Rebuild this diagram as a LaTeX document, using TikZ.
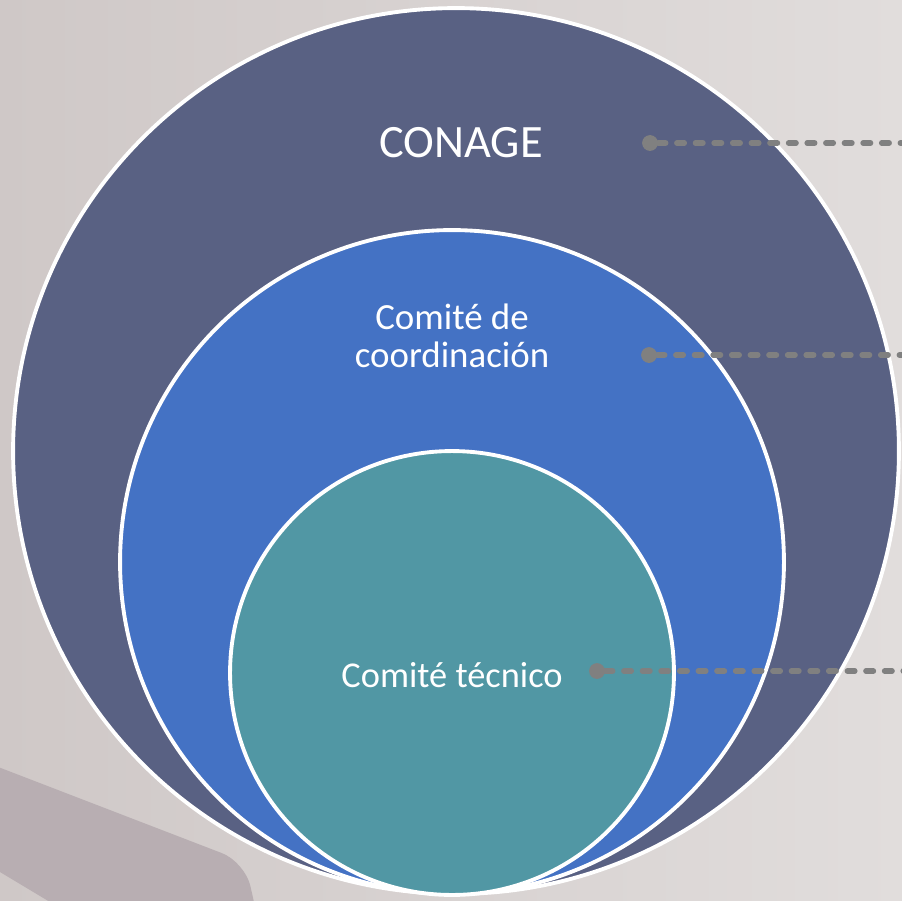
\documentclass[tikz,border=0pt]{standalone}
\usepackage{fontspec}
\setmainfont{Carlito}
\usetikzlibrary{positioning}

\definecolor{bgleft}{HTML}{CFC8C7}
\definecolor{bgright}{HTML}{E1DDDC}
\definecolor{bandcol}{HTML}{B8AEB2}
\definecolor{outercol}{HTML}{596183}
\definecolor{midcol}{HTML}{4472C4}
\definecolor{innercol}{HTML}{5197A4}
\definecolor{linecol}{HTML}{808080}

\tikzset{
  ring/.style={draw=white,line width=2.2pt},
  lbl/.style={text=white,align=center,inner sep=0pt},
  pin/.style={circle,fill=linecol,inner sep=0pt,minimum size=9pt},
  lead/.style={linecol,line width=3.2pt,line cap=round,dash pattern=on 4.2pt off 6.4pt}
}

\begin{document}
\begin{tikzpicture}[x=0.02cm,y=-0.02cm]

\useasboundingbox (0,0) rectangle (902,900);
\shade[left color=bgleft,right color=bgright] (0,0) rectangle (902,900);
\fill[bandcol] (-20,760) [rounded corners=14]--(245,862)[sharp corners]--(258,920)--(80,920)--(-20,860)--cycle;

% nested circles
\filldraw[ring,fill=outercol] (456,451) circle[radius=8.86cm];
\filldraw[ring,fill=midcol] (452,562) circle[radius=6.64cm];
\filldraw[ring,fill=innercol] (452,673) circle[radius=4.44cm];

\node[lbl,font=\fontsize{26.4}{32}\selectfont] (conage) at (461,143) {CONAGE};
\node[lbl,font=\fontsize{21}{21.6}\selectfont] (coord) at (452,336) {Comité de\\coordinación};
\node[lbl,font=\fontsize{20.7}{24}\selectfont] (tecnico) at (452,675) {Comité técnico};

% leaders
\node[pin] (d1) at (650,143) {};
\node[pin] (d2) at (649,355) {};
\node[pin] (d3) at (597,671) {};
\coordinate (e1) at (905,143);
\coordinate (e2) at (905,355);
\coordinate (e3) at (905,671);
\draw[lead] (d1)--(e1);
\draw[lead] (d2)--(e2);
\draw[lead] (d3)--(e3);

\end{tikzpicture}
\end{document}
